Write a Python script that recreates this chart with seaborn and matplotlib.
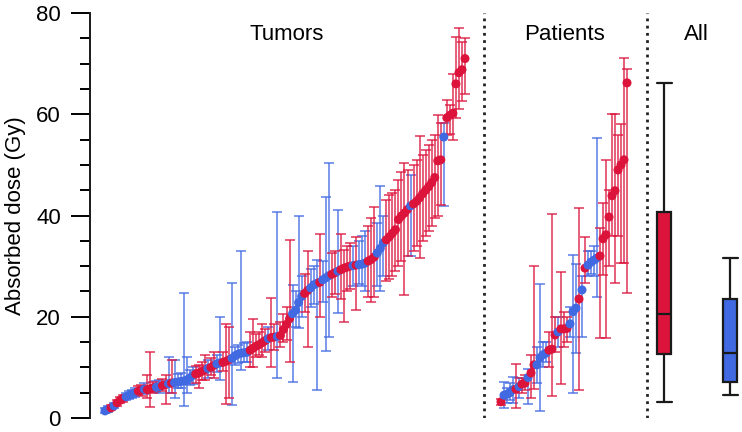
import numpy as np
import pandas as pd
import matplotlib
matplotlib.use('Agg')
import matplotlib.pyplot as plt
import seaborn as sns


# ---- data ----
# tumors, sorted by dose; group r = red, b = blue; lo/hi = error bar ends (Gy)
tumor_dose = [1.4, 1.7, 2.0, 2.4, 3.0, 3.5, 3.9, 4.2, 4.5, 4.8,
              5.0, 5.3, 5.5, 5.7, 5.6, 5.8, 6.0, 6.1, 6.2, 6.4,
              6.6, 6.8, 6.9, 7.0, 7.1, 7.2, 7.3, 7.5, 7.9, 8.4,
              8.7, 8.9, 9.2, 9.5, 9.8, 10.0, 10.4, 10.7, 10.9, 11.0,
              11.2, 11.5, 11.8, 12.3, 12.6, 12.8, 12.9, 13.0, 13.4, 13.8,
              14.2, 14.5, 14.9, 15.3, 15.7, 15.9, 16.0, 16.1, 16.3, 17.5,
              18.5, 19.6, 20.6, 21.3, 22.8, 24.0, 24.6, 25.2, 25.7, 26.3,
              26.6, 26.8, 27.3, 27.7, 28.1, 28.4, 28.7, 29.0, 29.3, 29.6,
              29.8, 30.0, 30.1, 30.2, 30.3, 30.4, 30.6, 31.0, 31.3, 31.8,
              32.6, 33.5, 34.6, 35.2, 35.8, 36.5, 37.2, 39.2, 39.9, 40.5,
              41.2, 41.9, 42.3, 42.8, 43.5, 44.3, 45.0, 45.7, 46.5, 47.5,
              50.8, 51.0, 55.5, 59.3, 59.8, 60.2, 66.0, 68.2, 68.8, 71.0]
tumor_group = list('bbrbrrrbbb' 'brrbrrrbbr' 'rbrbbbbbbb' 'rrrrbrrbbr'
                   'rrbbbbbbrr' 'rrrrbrrbrr' 'rrbbbbrrbb' 'brbbbrrbrr'
                   'rrbrbbbrrr' 'bbbrrrrrrr' 'rbrrrrrrrr' 'rrbrrrrrrr')
tumor_lo = [1.0, 1.2, 1.5, 1.9, 2.4, 2.9, 3.2, 3.5, 3.8, 4.0,
            4.2, 4.5, 4.4, 4.8, 4.0, 2.2, 5.0, 5.1, 5.0, 5.3,
            2.8, 5.0, 5.0, 4.0, 6.0, 6.0, 2.4, 5.0, 6.5, 6.8,
            7.0, 6.0, 7.5, 7.5, 8.0, 8.5, 8.0, 9.0, 7.5, 9.2,
            2.8, 4.0, 2.6, 10.5, 10.8, 9.5, 11.0, 11.0, 10.0, 10.0,
            12.0, 12.5, 12.0, 13.0, 13.5, 10.0, 13.5, 7.9, 14.0, 15.0,
            15.5, 11.0, 7.1, 18.0, 17.8, 20.0, 21.0, 14.0, 22.0, 22.5,
            5.5, 20.0, 23.0, 13.2, 16.0, 24.0, 24.5, 20.7, 23.5, 19.0,
            25.0, 25.5, 26.0, 21.3, 26.5, 26.0, 25.0, 24.0, 23.0, 24.0,
            26.0, 25.0, 28.0, 27.0, 27.5, 28.0, 29.0, 30.0, 31.0, 24.3,
            32.0, 32.0, 33.0, 34.0, 31.6, 35.0, 36.0, 37.0, 38.0, 39.5,
            40.0, 42.0, 41.9, 56.0, 56.1, 55.0, 59.3, 61.0, 62.6, 64.0]
tumor_hi = [2.0, 2.3, 2.6, 3.0, 3.6, 4.2, 4.6, 5.0, 5.4, 5.6,
            5.9, 6.3, 6.6, 6.9, 8.5, 13.0, 7.2, 7.3, 7.6, 7.7,
            8.5, 12.0, 11.5, 11.5, 8.6, 8.8, 24.7, 12.0, 9.5, 10.0,
            10.3, 10.5, 11.0, 12.5, 11.5, 11.8, 13.0, 12.5, 20.0, 13.0,
            18.6, 18.0, 26.7, 14.0, 14.5, 33.0, 14.8, 15.0, 17.0, 19.5,
            16.5, 17.0, 18.6, 17.5, 18.0, 23.7, 18.5, 40.7, 19.0, 20.5,
            22.0, 35.2, 26.3, 25.0, 40.0, 28.0, 28.5, 33.0, 29.5, 30.0,
            31.2, 36.4, 31.0, 43.7, 50.4, 32.5, 33.0, 41.0, 36.4, 33.2,
            34.0, 34.5, 34.0, 35.8, 35.0, 36.0, 37.0, 38.0, 39.5, 41.7,
            38.5, 45.8, 40.0, 43.0, 44.0, 44.5, 45.0, 47.0, 48.5, 50.4,
            49.0, 48.0, 50.0, 51.0, 55.7, 52.0, 53.0, 54.0, 55.0, 56.0,
            59.9, 58.3, 58.3, 62.8, 61.8, 68.0, 75.3, 77.0, 74.3, 75.0]

# patients, sorted by dose
patient_dose = [3.2, 4.5, 4.7, 5.0, 5.6, 5.7, 6.2, 6.7, 6.9, 8.0,
                8.9, 10.5, 10.5, 11.9, 12.5, 12.8, 13.4, 13.6, 16.4, 17.0,
                17.6, 17.6, 17.7, 18.6, 21.0, 21.7, 23.5, 25.3, 29.6, 30.2,
                30.8, 31.2, 31.6, 32.0, 35.4, 36.2, 39.7, 43.9, 44.9, 49.0,
                50.0, 51.0, 66.2]
patient_group = list('rbbbbrbrrb' 'rrbbbbrrrb' 'rrrbbbrbrb' 'bbbrrrrrrr' 'rrr')
patient_lo = [2.6, 2.0, 3.0, 3.5, 3.0, 2.0, 4.0, 5.0, 5.5, 2.8,
              4.0, 5.7, 7.0, 1.4, 10.0, 11.0, 10.0, 4.3, 13.0, 14.0,
              6.7, 14.0, 15.0, 16.0, 5.0, 12.8, 5.5, 16.0, 26.7, 28.0,
              28.5, 28.0, 23.9, 15.8, 28.3, 15.8, 30.0, 36.0, 26.7, 36.0,
              30.6, 30.6, 24.7]
patient_hi = [3.8, 7.1, 6.0, 7.0, 8.1, 10.7, 8.0, 8.0, 8.5, 9.7,
              12.5, 30.0, 14.0, 26.5, 15.0, 15.0, 17.0, 40.3, 20.0, 20.0,
              28.8, 21.0, 20.0, 22.0, 32.2, 30.4, 41.5, 28.0, 35.8, 33.0,
              33.0, 34.0, 55.3, 37.5, 42.5, 51.0, 45.0, 60.1, 60.1, 56.0,
              58.0, 71.1, 69.0]

panel_titles = ['Tumors', 'Patients', 'All']

RED = '#DC143C'
BLUE = '#4169E1'
pal = {'r': RED, 'b': BLUE}

sns.set_style('ticks')
plt.rcParams['font.family'] = ['Liberation Sans', 'DejaVu Sans']
plt.rcParams['font.size'] = 16
plt.rcParams['text.color'] = 'black'
plt.rcParams['axes.labelcolor'] = 'black'
plt.rcParams['ytick.color'] = 'black'

tumors = pd.DataFrame({'dose': tumor_dose, 'group': tumor_group,
                       'lo': tumor_lo, 'hi': tumor_hi})
patients = pd.DataFrame({'dose': patient_dose, 'group': patient_group,
                         'lo': patient_lo, 'hi': patient_hi})
# horizontal layout in pixel-like units
tumors['x'] = np.linspace(105, 465, len(tumors))
patients['x'] = np.linspace(501, 627, len(patients))

fig = plt.figure(figsize=(7.42, 4.32), dpi=100)
ax = fig.add_axes([90 / 742, 14 / 432, 652 / 742, 405 / 432])

for df in (tumors, patients):
    for g, sub in df.groupby('group'):
        ax.errorbar(sub['x'], sub['dose'],
                    yerr=[sub['dose'] - sub['lo'], sub['hi'] - sub['dose']],
                    fmt='none', ecolor=pal[g], elinewidth=1.2, capsize=3.4,
                    capthick=1.2, alpha=0.8, zorder=2)
    sns.scatterplot(data=df, x='x', y='dose', hue='group', palette=pal,
                    s=42, linewidth=0, legend=False, zorder=3, ax=ax)

# "All": box plots of the patient doses by group
box_pos = {'r': 664, 'b': 730}
for g in ['r', 'b']:
    sub = patients[patients['group'] == g]
    sns.boxplot(x=np.full(len(sub), box_pos[g]), y=sub['dose'].values,
                native_scale=True, width=14, color=pal[g], saturation=1,
                linecolor='#1a1a1a', linewidth=1.6, showfliers=False,
                capwidths=15, ax=ax)

for xv in (484, 647):
    ax.axvline(xv, color='#222222', ls=(0, (1, 1.6)), lw=2.0, zorder=1)

ax.text(287, 75.7, panel_titles[0], ha='center', va='center', fontsize=16)
ax.text(565, 75.7, panel_titles[1], ha='center', va='center', fontsize=16)
ax.text(696, 75.7, panel_titles[2], ha='center', va='center', fontsize=16)

ax.set_xlim(90, 742)
ax.set_ylim(0, 80)
ax.set_yticks([0, 20, 40, 60, 80])
ax.set_yticks(np.arange(0, 81, 5), minor=True)
ax.tick_params(axis='y', which='major', length=14, width=1.4, pad=7, labelsize=16)
ax.tick_params(axis='y', which='minor', length=7, width=1.4)
ax.set_xticks([])
ax.set_xlabel('')
ax.set_ylabel('Absorbed dose (Gy)', fontsize=16)
ax.yaxis.set_label_coords(-0.098, 0.5)
for s in ['top', 'right', 'bottom']:
    ax.spines[s].set_visible(False)
ax.spines['left'].set_linewidth(1.4)
ax.spines['left'].set_color('#1a1a1a')

fig.savefig('out.png', dpi=100)
